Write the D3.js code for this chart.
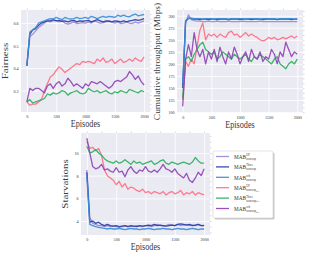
<!DOCTYPE html>
<html>
<head>
<meta charset="utf-8">
<script src="https://cdn.jsdelivr.net/npm/d3@7"></script>
<style>
  body { margin: 0; background: #fff; }
  svg { display: block; }
</style>
</head>
<body>
<svg id="fig" width="310" height="255"></svg>
<script>
// episodes sampled every 50
var episodes = [0,50,100,150,200,250,300,350,400,450,500,550,600,650,700,750,800,850,900,950,
  1000,1050,1100,1150,1200,1250,1300,1350,1400,1450,1500,1550,1600,1650,1700,1750,1800,1850,1900,1950,2000];
var xTicks = [0,500,1000,1500,2000];

// legend order
var names = ["UP","Thres","sch","UP","Thres","sch"];
var full = [false,false,false,true,true,true];
var colors = ["#9b8ad2","#2a3daa","#3a8ed6","#ff6f86","#2fae5e","#9044b5"];

// fairness
var fairUPnc = [0.41,0.54,0.55,0.565,0.58,0.59,0.60,0.61,0.605,0.61,0.612,0.605,0.61,0.60,0.595,0.60,0.605,0.598,0.60,0.602,0.60,0.605,0.60,0.61,0.605,0.60,0.602,0.605,0.61,0.605,0.60,0.605,0.598,0.60,0.605,0.60,0.598,0.605,0.60,0.605,0.61];
var fairThnc = [0.41,0.55,0.57,0.575,0.59,0.60,0.605,0.61,0.61,0.615,0.61,0.612,0.608,0.61,0.605,0.61,0.612,0.605,0.61,0.608,0.61,0.612,0.605,0.61,0.615,0.61,0.605,0.61,0.608,0.605,0.61,0.608,0.605,0.61,0.605,0.61,0.612,0.615,0.612,0.615,0.62];
var fairSchnc = [0.41,0.56,0.57,0.58,0.60,0.605,0.61,0.615,0.62,0.618,0.625,0.62,0.615,0.625,0.62,0.618,0.62,0.625,0.62,0.622,0.625,0.62,0.63,0.625,0.62,0.625,0.63,0.625,0.63,0.628,0.625,0.635,0.63,0.635,0.63,0.628,0.635,0.64,0.632,0.635,0.638];
var fairUPhd = [0.25,0.235,0.24,0.24,0.25,0.26,0.30,0.33,0.36,0.37,0.39,0.405,0.395,0.38,0.39,0.40,0.41,0.42,0.415,0.43,0.425,0.43,0.425,0.42,0.44,0.43,0.445,0.425,0.43,0.44,0.42,0.43,0.44,0.425,0.43,0.44,0.43,0.445,0.435,0.43,0.45];
var fairThhd = [0.25,0.26,0.245,0.25,0.255,0.26,0.265,0.285,0.28,0.29,0.285,0.29,0.30,0.295,0.28,0.29,0.295,0.30,0.29,0.285,0.29,0.31,0.30,0.295,0.30,0.29,0.295,0.30,0.29,0.285,0.295,0.29,0.30,0.295,0.29,0.305,0.30,0.295,0.29,0.30,0.295];
var fairSchhd = [0.25,0.31,0.30,0.31,0.31,0.30,0.29,0.32,0.33,0.31,0.33,0.34,0.32,0.33,0.355,0.34,0.32,0.33,0.32,0.31,0.33,0.32,0.34,0.335,0.33,0.34,0.33,0.32,0.31,0.32,0.34,0.345,0.34,0.35,0.36,0.385,0.37,0.35,0.365,0.34,0.325];

// cumulative throughput (Mbps)
var thrUPnc = [155,285,302,292,290,289,289,288,288,289,288,288,289,288,288,288,289,288,288,288,288,289,288,288,288,288,288,289,288,288,288,288,288,288,288,288,288,288,288,288,288];
var thrThnc = [150,288,295,294,293,293,292,293,293,292,293,293,292,293,293,293,292,293,293,293,292,293,293,293,292,293,293,293,292,293,293,293,293,292,293,293,293,293,292,293,293];
var thrSchnc = [160,290,294,295,294,294,294,293,294,294,294,293,294,294,294,294,293,294,294,294,294,294,293,294,294,294,294,293,294,294,294,294,294,293,294,294,294,294,294,293,294];
var thrUPhd = [125,205,195,210,200,235,270,285,250,262,258,262,255,262,258,255,265,268,260,262,255,260,265,258,262,258,255,250,248,250,255,252,255,250,252,255,252,255,258,254,258];
var thrThhd = [130,210,215,205,220,230,240,245,230,225,220,225,210,215,225,220,215,210,220,215,210,215,220,210,205,215,210,220,215,210,205,200,210,215,200,195,190,200,205,200,210];
var thrSchhd = [112,210,240,215,265,230,215,230,200,225,210,230,205,235,215,200,225,210,235,220,200,215,225,205,230,215,210,225,205,215,210,230,220,200,225,215,245,230,215,225,220];

// starvations
var stUPnc = [8.5,4.3,3.8,3.7,3.6,3.6,3.5,3.6,3.5,3.55,3.5,3.45,3.5,3.6,3.5,3.55,3.5,3.6,3.55,3.5,3.6,3.55,3.5,3.6,3.7,3.6,3.55,3.6,3.7,3.65,3.6,3.7,3.6,3.65,3.7,3.6,3.65,3.6,3.7,3.6,3.65];
var stThnc = [8.3,3.9,4.0,3.8,3.9,3.7,3.6,3.7,3.6,3.55,3.6,3.5,3.55,3.6,3.5,3.6,3.55,3.5,3.6,3.55,3.6,3.65,3.6,3.7,3.6,3.65,3.6,3.55,3.6,3.65,3.6,3.7,3.75,3.7,3.65,3.7,3.6,3.65,3.7,3.6,3.6];
var stSchnc = [7.9,3.7,3.6,3.5,3.45,3.4,3.35,3.3,3.35,3.3,3.3,3.35,3.3,3.25,3.3,3.35,3.3,3.3,3.25,3.3,3.3,3.35,3.3,3.25,3.3,3.3,3.35,3.3,3.3,3.25,3.3,3.35,3.3,3.3,3.25,3.3,3.35,3.3,3.25,3.3,3.3];
var stUPhd = [11.0,10.4,10.5,10.2,10.4,9.8,8.5,8.0,7.8,7.6,7.2,7.5,7.0,7.3,6.8,7.0,6.9,6.7,6.6,6.8,6.5,6.6,6.4,6.6,6.5,6.4,6.6,6.3,6.5,6.6,6.4,6.5,6.7,6.3,6.5,6.4,6.6,6.3,6.5,6.4,6.3];
var stThhd = [10.6,10.0,10.1,10.3,10.0,9.8,9.5,9.3,9.2,9.1,9.3,9.1,9.2,9.4,9.2,9.0,9.3,9.1,9.2,9.0,9.1,9.2,9.3,9.0,9.1,9.3,9.4,9.1,9.0,9.2,9.1,9.0,9.1,9.2,9.1,9.0,9.2,9.6,9.3,9.1,9.1];
var stSchhd = [11.3,10.0,8.8,8.6,8.7,9.0,8.5,8.6,8.4,8.3,8.7,8.3,8.4,7.9,8.5,8.8,8.4,8.2,8.5,8.4,8.8,8.4,8.3,8.5,8.3,8.6,9.0,8.6,8.5,8.3,8.6,8.2,8.0,7.8,8.2,7.6,7.4,7.8,8.3,8.0,8.6];

var fairTicks = [0.3,0.4,0.5,0.6];
var thrTicks = [100,125,150,175,200,225,250,275,300];
var stTicks = [4,6,8,10];

var svg = d3.select("#fig");
var sx = 0.82; // the reference glyphs look squeezed sideways
var font = "'Liberation Serif', 'DejaVu Serif', serif";

function label(x, y, txt, size, rot) {
  var tr = "translate(" + x + "," + y + ") scale(" + sx + ",1)" + (rot ? " rotate(-90)" : "");
  return svg.append("text")
    .attr("transform", tr)
    .attr("text-anchor", "middle")
    .attr("font-family", font)
    .attr("font-size", size)
    .attr("fill", "#3a3a3a")
    .text(txt);
}

function panel(box, yDom, yTicks, yFmt, series, ylab, ylabX, ylabSize) {
  var x = d3.scaleLinear().domain([-100, 2100]).range([box.x0, box.x1]);
  var y = d3.scaleLinear().domain(yDom).range([box.y1, box.y0]);
  var g = svg.append("g");

  g.append("rect")
    .attr("x", box.x0).attr("y", box.y0)
    .attr("width", box.x1 - box.x0).attr("height", box.y1 - box.y0)
    .attr("fill", "#eaeaf2");

  // white grid
  var gridX = g.append("g").attr("transform", "translate(0," + box.y1 + ")")
    .call(d3.axisBottom(x).tickValues(xTicks).tickSize(-(box.y1 - box.y0)).tickFormat(""));
  var gridY = g.append("g").attr("transform", "translate(" + box.x0 + ",0)")
    .call(d3.axisLeft(y).tickValues(yTicks).tickSize(-(box.x1 - box.x0)).tickFormat(""));
  [gridX, gridY].forEach(function(a) {
    a.select(".domain").remove();
    a.selectAll("line").attr("stroke", "#fff").attr("stroke-width", 0.8);
  });

  // little ticks along top and right edges
  var topT = g.append("g").attr("transform", "translate(0," + box.y0 + ")")
    .call(d3.axisTop(x).tickValues([0,250,500,750,1000,1250,1500,1750,2000]).tickSize(1.5).tickFormat(""));
  var rightT = g.append("g").attr("transform", "translate(" + box.x1 + ",0)")
    .call(d3.axisRight(y).ticks(16).tickSize(1.5).tickFormat(""));
  [topT, rightT].forEach(function(a) {
    a.select(".domain").remove();
    a.selectAll("line").attr("stroke", "#b0b0b8").attr("stroke-width", 0.5);
  });

  // tick labels
  var ax = g.append("g").attr("transform", "translate(0," + box.y1 + ")")
    .call(d3.axisBottom(x).tickValues(xTicks).tickSize(0).tickPadding(2.5).tickFormat(d3.format("d")));
  var ay = g.append("g").attr("transform", "translate(" + box.x0 + ",0)")
    .call(d3.axisLeft(y).tickValues(yTicks).tickSize(0).tickPadding(3).tickFormat(yFmt));
  [ax, ay].forEach(function(a) {
    a.select(".domain").remove();
    a.selectAll("text")
      .attr("font-family", font).attr("font-size", 5).attr("fill", "#333")
      .attr("transform", "scale(" + sx + ",1)");
  });

  var line = d3.line()
    .x(function(d, i) { return x(episodes[i]); })
    .y(function(d) { return y(d); });

  series.forEach(function(s, i) {
    g.append("path")
      .attr("d", line(s))
      .attr("fill", "none")
      .attr("stroke", colors[i])
      .attr("stroke-width", 1.3)
      .attr("stroke-linejoin", "round")
      .attr("opacity", 0.92);
  });

  label((box.x0 + box.x1) / 2, box.y1 + 15, "Episodes", 10, false);
  label(ylabX, (box.y0 + box.y1) / 2, ylab, ylabSize, true);
}

panel({x0: 21, x1: 150, y0: 10, y1: 112}, [0.205, 0.658], fairTicks, d3.format(".1f"),
  [fairUPnc, fairThnc, fairSchnc, fairUPhd, fairThhd, fairSchhd], "Fairness", 8, 11);
panel({x0: 177, x1: 303, y0: 10, y1: 113}, [98, 312], thrTicks, d3.format("d"),
  [thrUPnc, thrThnc, thrSchnc, thrUPhd, thrThhd, thrSchhd], "Cumulative throughput (Mbps)", 160, 9.4);
panel({x0: 81, x1: 210, y0: 133, y1: 235}, [2.77, 11.76], stTicks, d3.format("d"),
  [stUPnc, stThnc, stSchnc, stUPhd, stThhd, stSchhd], "Starvations", 68, 11);

// legend
var leg = svg.append("g");
leg.append("rect").attr("x", 214.5).attr("y", 152.5).attr("width", 60).attr("height", 67)
  .attr("rx", 1.5).attr("fill", "#c8c8c8");
leg.append("rect").attr("x", 213).attr("y", 151).attr("width", 60).attr("height", 67)
  .attr("rx", 1.5).attr("fill", "#fff").attr("stroke", "#d0d0d0").attr("stroke-width", 0.6);

var legY = d3.scalePoint().domain(d3.range(names.length)).range([156.5, 208.5]);
names.forEach(function(n, i) {
  var yy = legY(i);
  leg.append("line").attr("x1", 216).attr("x2", 229).attr("y1", yy).attr("y2", yy)
    .attr("stroke", colors[i]).attr("stroke-width", 1.3).attr("opacity", 0.92);
  var t = leg.append("text")
    .attr("transform", "translate(234," + (yy + 2.2) + ") scale(" + sx + ",1)")
    .attr("font-family", font).attr("font-size", 6.4).attr("fill", "#333")
    .text("MAB");
  var w = t.node().getComputedTextLength() * sx;
  leg.append("text")
    .attr("transform", "translate(" + (234 + w + 0.4) + "," + (yy - 0.6) + ") scale(" + sx + ",1)")
    .attr("font-family", font).attr("font-size", 3.4).attr("fill", "#333")
    .text(n);
  var sub = leg.append("text")
    .attr("transform", "translate(" + (234 + w + 0.4) + "," + (yy + 3.4) + ") scale(" + sx + ",1)")
    .attr("font-family", font).attr("font-size", 3.4).attr("fill", "#333")
    .text("noncoop");
  if (full[i]) {
    sub.append("tspan").attr("font-size", 2.6).attr("dy", 0.8).text("full");
  }
});
</script>
</body>
</html>
